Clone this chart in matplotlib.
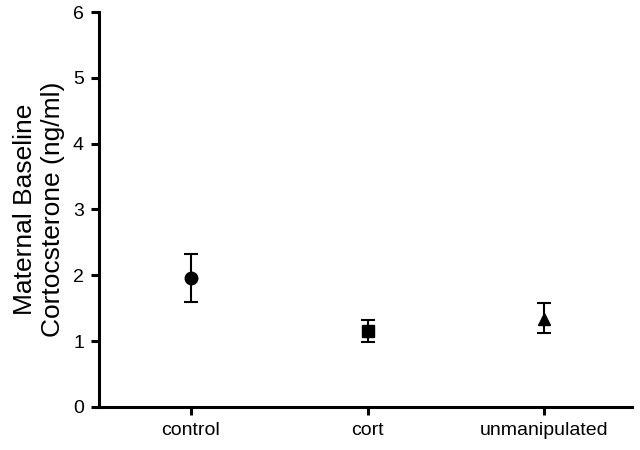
import numpy as np
import matplotlib.pyplot as plt

plt.rcParams['font.family'] = ['Liberation Sans', 'DejaVu Sans']

groups = ['control', 'cort', 'unmanipulated']
means = [1.96, 1.16, 1.33]
err_low = [0.37, 0.17, 0.21]
err_high = [0.36, 0.16, 0.25]
markers = ['o', 's', '^']
msizes = [9, 8, 8.5]

fig = plt.figure(figsize=(6.4, 4.5), dpi=100)
ax = fig.add_axes([0.155, 0.096, 0.833, 0.877])

x = np.arange(len(groups))
for i in range(len(groups)):
    ax.errorbar(x[i], means[i], yerr=[[err_low[i]], [err_high[i]]],
                fmt=markers[i], color='black', markersize=msizes[i], capsize=5,
                elinewidth=1.5, capthick=1.5)

ax.set_xlim(-0.52, 2.5)
ax.set_ylim(0, 6)
ax.set_yticks(range(7))
ax.set_xticks(x)
ax.set_xticklabels(groups, fontsize=14)
ax.tick_params(axis='y', labelsize=14, width=2.2, length=6, pad=5)
ax.tick_params(axis='x', width=2.2, length=6, pad=5)
ax.set_ylabel('Maternal Baseline\nCortocsterone (ng/ml)', fontsize=19, labelpad=6)

for s in ['top', 'right']:
    ax.spines[s].set_visible(False)
for s in ['left', 'bottom']:
    ax.spines[s].set_linewidth(2.2)

fig.savefig('out.png', dpi=100)
